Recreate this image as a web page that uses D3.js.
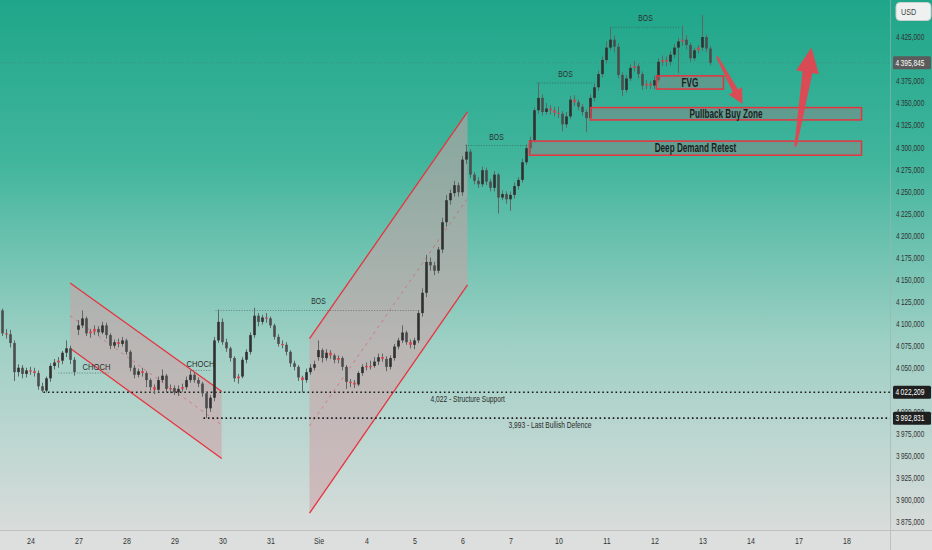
<!DOCTYPE html>
<html>
<head>
<meta charset="utf-8">
<script src="https://cdn.jsdelivr.net/npm/d3@7"></script>
<style>
  html, body { margin: 0; padding: 0; background: #dcdfde; overflow: hidden; }
  svg { display: block; }
  text { font-family: "Liberation Sans", Arial, sans-serif; }
</style>
</head>
<body>
<script>
// ---- data ----
const dayLabels = ["24", "27", "28", "29", "30", "31", "Sie", "4", "5", "6", "7", "10", "11", "12", "13", "14", "17", "18"];
const barsPerDay = 12;
const firstBar = -8; // bars before the first labelled day

// [open, high, low, close]
const candles = [
  [4127,4129,4113,4115],[4115,4117,4086,4089],[4089,4094,4083,4088],[4088,4093,4073,4078],
  [4078,4081,4035,4045],[4045,4054,4040,4050],[4050,4053,4038,4043],[4043,4050,4039,4047],
  [4047,4051,4042,4046],[4046,4050,4040,4044],[4044,4047,4025,4029],[4029,4033,4022,4024],
  [4024,4040,4022,4038],[4038,4055,4034,4052],[4052,4060,4048,4056],[4056,4062,4050,4058],
  [4058,4069,4054,4067],[4067,4081,4062,4072],[4072,4075,4054,4059],[4059,4062,4041,4045],
  [4093,4104,4087,4098],[4098,4115,4095,4106],[4106,4108,4086,4089],[4089,4094,4084,4091],
  [4091,4098,4087,4094],[4094,4097,4086,4090],[4090,4102,4088,4098],[4098,4101,4083,4087],
  [4087,4089,4071,4075],[4075,4082,4072,4079],[4079,4083,4073,4077],[4077,4085,4074,4081],
  [4081,4083,4065,4068],[4068,4070,4046,4050],[4050,4053,4038,4042],[4042,4049,4039,4046],
  [4046,4050,4040,4044],[4044,4046,4028,4036],[4036,4038,4024,4028],[4028,4031,4020,4025],
  [4025,4040,4022,4036],[4036,4048,4033,4041],[4041,4043,4022,4026],[4026,4031,4021,4027],
  [4027,4030,4019,4022],[4022,4030,4018,4026],[4026,4032,4023,4028],[4028,4040,4025,4036],
  [4036,4047,4033,4042],[4042,4045,4033,4036],[4036,4039,4028,4032],[4032,4034,4017,4021],
  [4021,4023,3993,4004],[4004,4019,4000,4016],[4016,4085,4012,4081],[4081,4116,4078,4102],
  [4102,4106,4076,4079],[4079,4083,4068,4072],[4072,4074,4057,4061],[4061,4063,4034,4038],
  [4038,4043,4032,4040],[4040,4062,4038,4059],[4059,4071,4055,4068],[4068,4090,4065,4087],
  [4087,4118,4084,4109],[4109,4112,4097,4102],[4102,4110,4099,4107],[4107,4112,4101,4106],
  [4106,4108,4095,4098],[4098,4100,4082,4085],[4085,4088,4074,4077],[4077,4081,4072,4076],
  [4076,4079,4064,4068],[4068,4070,4051,4055],[4055,4058,4047,4051],[4051,4053,4035,4039],
  [4039,4041,4022,4036],[4036,4049,4033,4045],[4045,4054,4042,4050],[4050,4058,4047,4054],
  [4062,4081,4058,4070],[4070,4072,4056,4061],[4061,4071,4058,4067],[4067,4070,4060,4064],
  [4064,4066,4055,4059],[4059,4064,4055,4061],[4061,4063,4047,4051],[4051,4053,4026,4034],
  [4034,4037,4028,4033],[4033,4036,4027,4031],[4031,4046,4029,4044],[4044,4054,4041,4051],
  [4051,4056,4047,4052],[4052,4058,4048,4052],[4052,4062,4050,4057],[4057,4066,4053,4062],
  [4062,4066,4057,4060],[4060,4063,4046,4051],[4051,4064,4048,4061],[4061,4077,4058,4074],
  [4074,4084,4071,4081],[4081,4098,4078,4090],[4090,4092,4076,4079],[4079,4082,4072,4076],
  [4076,4084,4071,4081],[4081,4115,4078,4112],[4112,4140,4108,4135],[4135,4178,4130,4170],
  [4170,4175,4160,4166],[4166,4170,4155,4160],[4160,4187,4157,4184],[4184,4220,4180,4215],
  [4215,4246,4210,4240],[4240,4252,4235,4248],[4248,4262,4244,4257],[4257,4260,4244,4249],
  [4249,4290,4245,4286],[4286,4303,4281,4295],[4295,4298,4265,4269],[4269,4272,4258,4262],
  [4262,4266,4254,4258],[4258,4278,4255,4274],[4274,4277,4257,4261],[4261,4264,4250,4254],
  [4254,4273,4250,4269],[4269,4271,4225,4243],[4243,4251,4240,4247],[4247,4250,4236,4241],
  [4241,4250,4228,4246],[4246,4260,4242,4256],[4256,4266,4252,4263],[4263,4287,4260,4283],
  [4283,4303,4280,4299],[4299,4312,4293,4308],[4308,4345,4305,4342],[4342,4373,4338,4356],
  [4356,4360,4336,4340],[4340,4350,4337,4344],[4344,4348,4337,4342],[4342,4346,4335,4339],
  [4339,4346,4333,4338],[4338,4341,4318,4326],[4326,4340,4322,4335],[4335,4358,4332,4354],
  [4354,4359,4347,4351],[4351,4354,4342,4346],[4346,4349,4336,4340],[4340,4343,4317,4333],
  [4333,4360,4330,4356],[4356,4372,4352,4368],[4368,4387,4364,4383],[4383,4403,4379,4399],
  [4399,4420,4395,4413],[4413,4436,4410,4422],[4422,4427,4408,4414],[4414,4418,4378,4382],
  [4382,4385,4358,4365],[4365,4382,4362,4378],[4378,4394,4375,4390],[4390,4398,4386,4392],
  [4392,4395,4378,4383],[4383,4386,4365,4370],[4370,4376,4366,4372],[4372,4375,4366,4370],
  [4370,4381,4366,4376],[4376,4401,4373,4397],[4397,4404,4392,4399],[4399,4403,4392,4397],
  [4397,4409,4393,4405],[4405,4417,4401,4413],[4413,4424,4384,4420],[4420,4438,4415,4422],
  [4422,4427,4411,4416],[4416,4419,4397,4401],[4401,4413,4398,4410],[4410,4416,4406,4413],
  [4413,4450,4409,4425],[4425,4428,4408,4412],[4412,4415,4393,4395.845]
];

// 4,400 and 4,025 sit under the price tags in the picture
const yTickValues = [3875, 3900, 3925, 3950, 3975, 4000, 4050, 4075, 4100, 4125, 4150,
                     4175, 4200, 4225, 4250, 4275, 4300, 4325, 4350, 4375, 4425];

const lastPrice = 4395.845;
const supportLevels = [
  { price: 4022.209, from: 3.25, label: "4,022 - Structure Support", labelAt: 100 },
  { price: 3992.831, from: 43.25, label: "3,993 - Last Bullish Defence", labelAt: 119.5 }
];
// channels: bar index range, top line and bottom line prices at both ends
const channels = [
  { i0: 9.9, i1: 47.8, top: [4146, 4023], bot: [4072, 3947] },
  { i0: 69.75, i1: 109.25, top: [4083, 4340], bot: [3885, 4144] }
];
const structureLines = [
  { name: "CHOCH", price: 4044, i0: 7, i1: 19.5, labelAt: 16.5 },
  { name: "CHOCH", price: 4047, i0: 40, i1: 45.25, labelAt: 42.5 },
  { name: "BOS", price: 4115, i0: 46.25, i1: 97.5, labelAt: 72 },
  { name: "BOS", price: 4302, i0: 108.75, i1: 124.5, labelAt: 116.5 },
  { name: "BOS", price: 4373, i0: 126.5, i1: 141.25, labelAt: 133.75 },
  { name: "BOS", price: 4436, i0: 145, i1: 162.5, labelAt: 153.75 }
];
const zones = [
  { name: "FVG", i0: 156.5, i1: 173.25, top: 4381, bot: 4366 },
  { name: "Pullback Buy Zone", i0: 140, i1: 207.75, top: 4345, bot: 4331 },
  { name: "Deep Demand Retest", i0: 124.75, i1: 207.75, top: 4307, bot: 4291 }
];
const arrows = [
  { from: [171.6, 4403], to: [178, 4349], w0: 2, w1: 6, head: 15, headW: 15 },
  { from: [191.25, 4301], to: [195.25, 4413], w0: 2.5, w1: 10, head: 25, headW: 23 }
];

// ---- layout ----
const W = 932, H = 550;
const plotR = 890, plotB = 530;

const svg = d3.select("body").append("svg").attr("width", W).attr("height", H);

const x = d3.scaleLinear().domain([0, barsPerDay * (dayLabels.length - 1)]).range([30.5, 846.5]);
const y = d3.scaleLinear().domain([3866, 4467]).range([plotB, 0]);

// squeeze a text horizontally, the picture uses a condensed face
const narrow = (sel, k) => sel.each(function () {
  const w = this.getComputedTextLength();
  d3.select(this).attr("textLength", w * k).attr("lengthAdjust", "spacingAndGlyphs");
});

const defs = svg.append("defs");
const grad = defs.append("linearGradient").attr("id", "bg")
  .attr("x1", 0).attr("y1", 0).attr("x2", 0).attr("y2", plotB).attr("gradientUnits", "userSpaceOnUse");
grad.append("stop").attr("offset", "0%").attr("stop-color", "#1fa68a");
grad.append("stop").attr("offset", "30%").attr("stop-color", "#40b59c");
grad.append("stop").attr("offset", "65%").attr("stop-color", "#9fd0c5");
grad.append("stop").attr("offset", "100%").attr("stop-color", "#d9dcdb");
defs.append("clipPath").attr("id", "plot").append("rect").attr("width", plotR).attr("height", plotB);

svg.append("rect").attr("width", W).attr("height", plotB).attr("fill", "url(#bg)");
svg.append("rect").attr("y", plotB).attr("width", W).attr("height", H - plotB).attr("fill", "#dcdfde");

const g = svg.append("g").attr("clip-path", "url(#plot)");

// channels
const red = "#e8333f";
channels.forEach((c) => {
  const pts = [[c.i0, c.top[0]], [c.i1, c.top[1]], [c.i1, c.bot[1]], [c.i0, c.bot[0]]];
  g.append("path")
    .attr("d", d3.line().x((d) => x(d[0])).y((d) => y(d[1]))(pts) + "Z")
    .attr("fill", "rgba(205,160,165,0.55)");
  const mid = [(c.top[0] + c.bot[0]) / 2, (c.top[1] + c.bot[1]) / 2];
  g.append("line")
    .attr("x1", x(c.i0)).attr("y1", y(mid[0])).attr("x2", x(c.i1)).attr("y2", y(mid[1]))
    .attr("stroke", red).attr("stroke-opacity", 0.45).attr("stroke-dasharray", "3,4");
  [c.top, c.bot].forEach((p) => {
    g.append("line")
      .attr("x1", x(c.i0)).attr("y1", y(p[0])).attr("x2", x(c.i1)).attr("y2", y(p[1]))
      .attr("stroke", red).attr("stroke-width", 1.3);
  });
});

// last price line
g.append("line")
  .attr("x1", 0).attr("x2", plotR).attr("y1", y(lastPrice)).attr("y2", y(lastPrice))
  .attr("stroke", "#55706a").attr("stroke-width", 0.8).attr("stroke-dasharray", "1,2").attr("opacity", 0.6);

// support lines
supportLevels.forEach((s) => {
  g.append("line")
    .attr("x1", x(s.from)).attr("x2", plotR).attr("y1", y(s.price)).attr("y2", y(s.price))
    .attr("stroke", "#1a1a1a").attr("stroke-width", 1.6).attr("stroke-dasharray", "1.6,2.8");
  g.append("text")
    .attr("x", x(s.labelAt)).attr("y", y(s.price) + 10)
    .attr("font-size", 8.5).attr("fill", "#2a2a2a").text(s.label)
    .call(narrow, 0.78);
});

// structure lines
structureLines.forEach((s) => {
  g.append("line")
    .attr("x1", x(s.i0)).attr("x2", x(s.i1)).attr("y1", y(s.price)).attr("y2", y(s.price))
    .attr("stroke", "#44524e").attr("stroke-width", 0.8).attr("stroke-dasharray", "1,1.6").attr("opacity", 0.8);
  g.append("text")
    .attr("x", x(s.labelAt)).attr("y", y(s.price) - (s.name === "CHOCH" ? 3 : 6))
    .attr("text-anchor", "middle")
    .attr("font-size", s.name === "CHOCH" ? 9.5 : 8.5).attr("fill", "#2e2e2e").text(s.name)
    .call(narrow, 0.8);
});

// candles
const bars = g.append("g");
candles.forEach((c, k) => {
  const i = firstBar + k;
  const [o, h, l, cl] = c;
  const cx = x(i);
  const small = Math.abs(cl - o) <= 3;
  bars.append("line")
    .attr("x1", cx).attr("x2", cx).attr("y1", y(h)).attr("y2", y(l))
    .attr("stroke", "#5e6664").attr("stroke-width", 1);
  bars.append("rect")
    .attr("x", cx - 1.3).attr("width", 2.6)
    .attr("y", y(Math.max(o, cl)))
    .attr("height", Math.max(1.2, Math.abs(y(o) - y(cl))))
    .attr("fill", small ? "#e23a48" : cl >= o ? "#303030" : "#4c4c4c");
});

// zones
zones.forEach((z) => {
  g.append("rect")
    .attr("x", x(z.i0)).attr("width", x(z.i1) - x(z.i0))
    .attr("y", y(z.top)).attr("height", y(z.bot) - y(z.top))
    .attr("fill", "rgba(135,135,135,0.5)").attr("stroke", red).attr("stroke-width", 1.5);
  g.append("text")
    .attr("x", (x(z.i0) + x(z.i1)) / 2).attr("y", (y(z.top) + y(z.bot)) / 2 + 4.3)
    .attr("text-anchor", "middle").attr("font-size", 12).attr("font-weight", "bold")
    .attr("fill", "#1e1e1e").text(z.name)
    .call(narrow, 0.68);
});

// arrows
arrows.forEach((a) => {
  const p0 = [x(a.from[0]), y(a.from[1])];
  const p1 = [x(a.to[0]), y(a.to[1])];
  const len = Math.hypot(p1[0] - p0[0], p1[1] - p0[1]);
  const u = [(p1[0] - p0[0]) / len, (p1[1] - p0[1]) / len];
  const n = [-u[1], u[0]];
  const pb = [p1[0] - u[0] * a.head, p1[1] - u[1] * a.head];
  const off = (p, w, s) => [p[0] + s * n[0] * w / 2, p[1] + s * n[1] * w / 2];
  const pts = [off(p0, a.w0, 1), off(pb, a.w1, 1), off(pb, a.headW, 1), p1,
               off(pb, a.headW, -1), off(pb, a.w1, -1), off(p0, a.w0, -1)];
  g.append("polygon").attr("points", pts.map((p) => p.join(",")).join(" "))
    .attr("fill", "#e8424f").attr("fill-opacity", 0.92);
});

// ---- axes ----
svg.append("line").attr("x1", plotR + 0.5).attr("x2", plotR + 0.5).attr("y1", 0).attr("y2", H)
  .attr("stroke", "#9fb3ae").attr("stroke-opacity", 0.6);
svg.append("line").attr("x1", 0).attr("x2", W).attr("y1", plotB + 0.5).attr("y2", plotB + 0.5)
  .attr("stroke", "#b9c2c0");

const fmt = (v) => {
  const s = v.toFixed(3).replace(".", ",");
  const [int, dec] = s.split(",");
  return int.slice(0, -3) + "\u2009" + int.slice(-3) + "," + dec;
};

const yAxis = d3.axisRight(y).tickValues(yTickValues).tickSize(0).tickPadding(6).tickFormat(fmt);
const yAG = svg.append("g").attr("transform", `translate(${plotR}, 0)`).call(yAxis);
yAG.select(".domain").remove();
yAG.selectAll("text").attr("font-size", 8.5).attr("fill", "#333")
  .style("font-family", '"Liberation Sans", Arial, sans-serif')
  .call(narrow, 0.76);

const xTicks = dayLabels.map((d, k) => k * barsPerDay);
const xAxis = d3.axisBottom(x).tickValues(xTicks).tickSize(0).tickPadding(8)
  .tickFormat((d) => dayLabels[d / barsPerDay]);
const xAG = svg.append("g").attr("transform", `translate(0, ${plotB})`).call(xAxis);
xAG.select(".domain").remove();
xAG.selectAll("text").attr("font-size", 9).attr("fill", "#333")
  .style("font-family", '"Liberation Sans", Arial, sans-serif')
  .call(narrow, 0.78);

// price tags
const tags = [
  { v: lastPrice, bg: "#5b5b5b" },
  { v: supportLevels[0].price, bg: "#1f1f1f" },
  { v: supportLevels[1].price, bg: "#1f1f1f" }
];
tags.forEach((t) => {
  svg.append("rect").attr("x", plotR + 3).attr("y", y(t.v) - 6.5).attr("width", W - plotR - 4).attr("height", 13)
    .attr("rx", 1.5).attr("fill", t.bg);
  svg.append("text").attr("x", plotR + 5.5).attr("y", y(t.v) + 3.2)
    .attr("font-size", 8.5).attr("fill", "#ffffff").text(fmt(t.v))
    .call(narrow, 0.78);
});

// currency box
svg.append("rect").attr("x", 896).attr("y", 2.5).attr("width", 35).attr("height", 18).attr("rx", 4)
  .attr("fill", "#eef1f0").attr("stroke", "#c9d0ce");
svg.append("text").attr("x", 901).attr("y", 15).attr("font-size", 9).attr("fill", "#444").text("USD")
  .call(narrow, 0.8);
</script>
</body>
</html>
